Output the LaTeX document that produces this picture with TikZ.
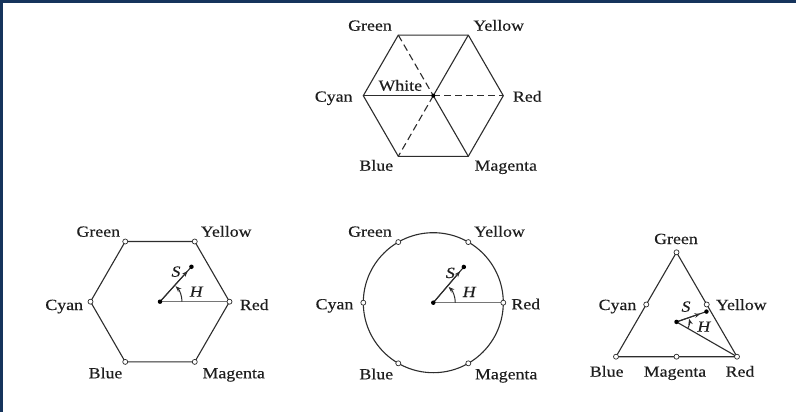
\documentclass[tikz,border=0pt]{standalone}
\usepackage{fontspec}
\setmainfont{Liberation Serif}[FakeStretch=1.15,FakeBold=0.35]
\usetikzlibrary{arrows.meta,calc}
\definecolor{frame}{RGB}{22,52,92}
\definecolor{ink}{RGB}{45,45,45}
\definecolor{txt}{RGB}{30,30,30}
\begin{document}
\begin{tikzpicture}[x=1pt,y=-1pt,
  lbl/.style={font=\fontsize{15.5}{18}\selectfont, anchor=base, inner sep=0pt, text=txt},
  ilbl/.style={lbl, font=\fontsize{15.5}{18}\selectfont\itshape},
  edge/.style={draw=ink, line width=1.1pt},
  refline/.style={draw=ink!65, line width=1.1pt},
  dashline/.style={draw=ink, line width=1.1pt, dash pattern=on 7pt off 4pt},
  vtx/.style={circle, draw=ink, fill=white, inner sep=0pt, minimum size=5pt, line width=0.7pt},
  dotn/.style={circle, fill=black, inner sep=0pt, minimum size=4.5pt},
  tip/.style={-{Stealth[length=6pt,width=4.5pt]}, draw=ink, line width=1pt}]
\useasboundingbox (0,0) rectangle (796,412);
\fill[white] (0,0) rectangle (796,412);
\fill[frame] (0,0) rectangle (796,3);
\fill[frame] (0,0) rectangle (3,412);

% ---------- top hexagon ----------
\coordinate (aC) at (433.3,95.7);
\foreach \n/\a in {R/0,Y/-60,G/-120,Cy/180,B/120,M/60}
  \coordinate (a\n) at ($(aC)+(\a:70)$);
\draw[edge] (aR) -- (aY) -- (aG) -- (aCy) -- (aB) -- (aM) -- cycle;
\draw[edge] (aCy) -- (aC);
\draw[edge] (aY) -- (aC) -- (aM);
\draw[dashline] (aC) -- (aR);
\draw[dashline] (aG) -- (aC);
\draw[dashline] (aC) -- (aB);
\node[dotn, minimum size=4pt] (aDot) at (aC) {};
\node[lbl] (aLG) at (370,30.7) {Green};
\node[lbl] (aLY) at (498.7,30.7) {Yellow};
\node[lbl] (aLC) at (333.7,101.7) {Cyan};
\node[lbl] (aLR) at (527.3,101.7) {Red};
\node[lbl] (aLB) at (376.3,170.7) {Blue};
\node[lbl] (aLM) at (505.8,170.7) {Magenta};
\node[lbl] (aLW) at (400.3,90.7) {White};

% ---------- bottom-left hexagon ----------
\coordinate (bC) at (160,301.7);
\foreach \n/\a in {R/0,Y/-60,G/-120,Cy/180,B/120,M/60}
  \coordinate (b\n) at ($(bC)+(\a:69.5)$);
\draw[edge] (bR) -- (bY) -- (bG) -- (bCy) -- (bB) -- (bM) -- cycle;
\draw[refline] (bC) -- (bR);
\coordinate (bS) at ($(bC)+(-48:47)$);
\draw[edge] (bC) -- (bS);
\draw[tip] (bC) -- ($(bC)!0.88!(bS)$);
\draw[tip] ($(bC)+(0:22)$) arc[start angle=0, end angle=-45, radius=22];
\foreach \n in {R,Y,G,Cy,B,M} \node[vtx] (bv\n) at (b\n) {};
\node[dotn] (bDot) at (bC) {};
\node[dotn] (bSDot) at (bS) {};
\node[ilbl] (bLS) at (176,276.7) {S};
\node[ilbl] (bLH) at (196.2,296.7) {H};
\node[lbl] (bLG) at (98.3,236.7) {Green};
\node[lbl] (bLY) at (226.2,236.7) {Yellow};
\node[lbl] (bLC) at (64.2,310) {Cyan};
\node[lbl] (bLR) at (254.3,310) {Red};
\node[lbl] (bLB) at (105.5,378.3) {Blue};
\node[lbl] (bLM) at (233.7,378.3) {Magenta};

% ---------- circle ----------
\coordinate (cC) at (433.3,302.7);
\draw[edge] (cC) circle[radius=70];
\foreach \n/\a in {R/0,Y/-60,G/-120,Cy/180,B/120,M/60}
  \coordinate (c\n) at ($(cC)+(\a:70)$);
\draw[refline] (cC) -- (cR);
\coordinate (cS) at ($(cC)+(-49.5:47)$);
\draw[edge] (cC) -- (cS);
\draw[tip] (cC) -- ($(cC)!0.88!(cS)$);
\draw[tip] ($(cC)+(0:22)$) arc[start angle=0, end angle=-46, radius=22];
\foreach \n in {R,Y,G,Cy,B,M} \node[vtx] (cv\n) at (c\n) {};
\node[dotn] (cDot) at (cC) {};
\node[dotn] (cSDot) at (cS) {};
\node[ilbl] (cLS) at (450.3,278) {S};
\node[ilbl] (cLH) at (469.2,297) {H};
\node[lbl] (cLG) at (370,236.7) {Green};
\node[lbl] (cLY) at (499.5,236.7) {Yellow};
\node[lbl] (cLC) at (334.5,309.3) {Cyan};
\node[lbl] (cLR) at (525.8,309.3) {Red};
\node[lbl] (cLB) at (376.3,379.3) {Blue};
\node[lbl] (cLM) at (506.2,379.3) {Magenta};

% ---------- triangle ----------
\coordinate (dG) at (676.5,252.3);
\coordinate (dB) at (616,356.7);
\coordinate (dR) at (737,356.7);
\coordinate (dCy) at ($(dG)!0.5!(dB)$);
\coordinate (dY) at ($(dG)!0.5!(dR)$);
\coordinate (dM) at ($(dB)!0.5!(dR)$);
\coordinate (dC) at (676.5,321.9);
\draw[edge] (dG) -- (dB) -- (dR) -- cycle;
\draw[edge] (dC) -- (dR);
\coordinate (dS) at ($(dC)+(-19:31.7)$);
\draw[edge] (dC) -- (dS);
\draw[tip] (dC) -- ($(dC)!0.8!(dS)$);
\draw[tip] ($(dC)+(30:13)$) arc[start angle=30, end angle=-14, radius=13];
\foreach \n in {G,B,R,Cy,Y,M} \node[vtx] (dv\n) at (d\n) {};
\node[dotn] (dDot) at (dC) {};
\node[dotn] (dSDot) at (dS) {};
\node[ilbl] (dLS) at (686,311.7) {S};
\node[ilbl] (dLH) at (703.8,331.7) {H};
\node[lbl] (dLG) at (676,244) {Green};
\node[lbl] (dLC) at (617.5,310) {Cyan};
\node[lbl] (dLY) at (741.3,310) {Yellow};
\node[lbl] (dLB) at (606.7,376.7) {Blue};
\node[lbl] (dLM) at (675,376.7) {Magenta};
\node[lbl] (dLR) at (740,376.7) {Red};
\end{tikzpicture}
\end{document}
